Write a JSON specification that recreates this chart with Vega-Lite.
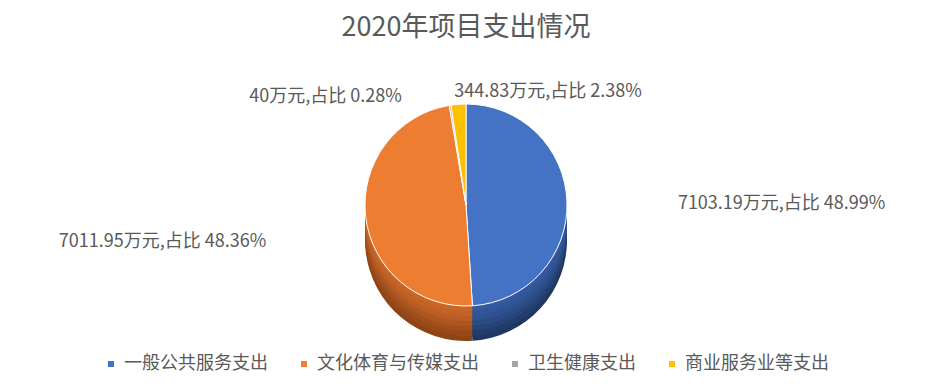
{
  "$schema": "https://vega.github.io/schema/vega-lite/v6.json",
  "width": 932,
  "height": 391,
  "autosize": {"type": "fit", "contains": "padding"},
  "padding": {"top": 14, "bottom": 31, "left": 5, "right": 5},
  "background": "white",
  "title": {
    "text": "2020年项目支出情况",
    "font": "Noto Sans CJK SC",
    "fontSize": 27,
    "fontWeight": "normal",
    "color": "#595959",
    "offset": 8
  },
  "data": {
    "values": [
      {"类别": "一般公共服务支出", "金额": 7103.19, "占比": "48.99%", "序号": 1},
      {"类别": "文化体育与传媒支出", "金额": 7011.95, "占比": "48.36%", "序号": 2},
      {"类别": "卫生健康支出", "金额": 40, "占比": "0.28%", "序号": 3},
      {"类别": "商业服务业等支出", "金额": 344.83, "占比": "2.38%", "序号": 4}
    ]
  },
  "encoding": {
    "theta": {"field": "金额", "type": "quantitative", "stack": true},
    "order": {"field": "序号", "type": "quantitative"}
  },
  "layer": [
    {"mark": {"type": "arc", "outerRadius": 101, "yOffset": 35}, "encoding": {"color": {"field": "类别", "type": "nominal", "legend": null, "scale": {"domain": ["一般公共服务支出", "文化体育与传媒支出", "卫生健康支出", "商业服务业等支出"], "range": ["#1F3762", "#8E4516", "#7F7F7F", "#C79600"]}}}},
    {"mark": {"type": "arc", "outerRadius": 101, "yOffset": 30}, "encoding": {"color": {"field": "类别", "type": "nominal", "legend": null, "scale": {"domain": ["一般公共服务支出", "文化体育与传媒支出", "卫生健康支出", "商业服务业等支出"], "range": ["#223C6B", "#97491A", "#7F7F7F", "#C79600"]}}}},
    {"mark": {"type": "arc", "outerRadius": 101, "yOffset": 25}, "encoding": {"color": {"field": "类别", "type": "nominal", "legend": null, "scale": {"domain": ["一般公共服务支出", "文化体育与传媒支出", "卫生健康支出", "商业服务业等支出"], "range": ["#264476", "#A24F1C", "#7F7F7F", "#C79600"]}}}},
    {"mark": {"type": "arc", "outerRadius": 101, "yOffset": 20}, "encoding": {"color": {"field": "类别", "type": "nominal", "legend": null, "scale": {"domain": ["一般公共服务支出", "文化体育与传媒支出", "卫生健康支出", "商业服务业等支出"], "range": ["#2A4B84", "#AE561F", "#7F7F7F", "#C79600"]}}}},
    {"mark": {"type": "arc", "outerRadius": 101, "yOffset": 15}, "encoding": {"color": {"field": "类别", "type": "nominal", "legend": null, "scale": {"domain": ["一般公共服务支出", "文化体育与传媒支出", "卫生健康支出", "商业服务业等支出"], "range": ["#2E518F", "#BA5D22", "#7F7F7F", "#C79600"]}}}},
    {"mark": {"type": "arc", "outerRadius": 101, "yOffset": 10}, "encoding": {"color": {"field": "类别", "type": "nominal", "legend": null, "scale": {"domain": ["一般公共服务支出", "文化体育与传媒支出", "卫生健康支出", "商业服务业等支出"], "range": ["#315598", "#C26224", "#7F7F7F", "#C79600"]}}}},
    {"mark": {"type": "arc", "outerRadius": 101, "yOffset": 5}, "encoding": {"color": {"field": "类别", "type": "nominal", "legend": null, "scale": {"domain": ["一般公共服务支出", "文化体育与传媒支出", "卫生健康支出", "商业服务业等支出"], "range": ["#3459A0", "#C96626", "#7F7F7F", "#C79600"]}}}},
    {
      "mark": {"type": "arc", "outerRadius": 101, "stroke": "white", "strokeWidth": 1},
      "encoding": {
        "color": {
          "field": "类别",
          "type": "nominal",
          "scale": {
            "domain": ["一般公共服务支出", "文化体育与传媒支出", "卫生健康支出", "商业服务业等支出"],
            "range": ["#4472C4", "#ED7D31", "#A5A5A5", "#FFC000"]
          },
          "legend": {
            "title": null,
            "orient": "none",
            "legendX": 97,
            "legendY": 305,
            "direction": "horizontal",
            "symbolType": "square",
            "symbolSize": 36,
            "symbolStrokeWidth": 0,
            "labelFont": "Noto Sans CJK SC",
            "labelFontSize": 18,
            "labelColor": "#595959",
            "labelLimit": 400,
            "columnPadding": 27,
            "labelOffset": 4
          }
        }
      }
    },
    {
      "transform": [
        {"calculate": "datum['金额'] + '万元,占比 ' + datum['占比']", "as": "标签"}
      ],
      "mark": {
        "type": "text",
        "font": "Noto Sans CJK SC",
        "fontSize": 18,
        "color": "#595959",
        "baseline": "middle",
        "radius": {"expr": "datum['序号'] <= 2 ? 212 : 116"},
        "align": {"expr": "datum['序号'] == 1 || datum['序号'] == 4 ? 'left' : 'right'"},
        "dx": {"expr": "datum['序号'] == 3 ? -46 : (datum['序号'] == 4 ? -3 : (datum['序号'] == 2 ? 11 : 0))"},
        "dy": {"expr": "datum['序号'] == 2 ? 13 : (datum['序号'] == 1 ? 6 : (datum['序号'] == 3 ? 7 : 3))"}
      },
      "encoding": {
        "text": {"field": "标签", "type": "nominal"}
      }
    }
  ],
  "resolve": {"scale": {"color": "independent"}},
  "config": {"view": {"stroke": null}}
}
